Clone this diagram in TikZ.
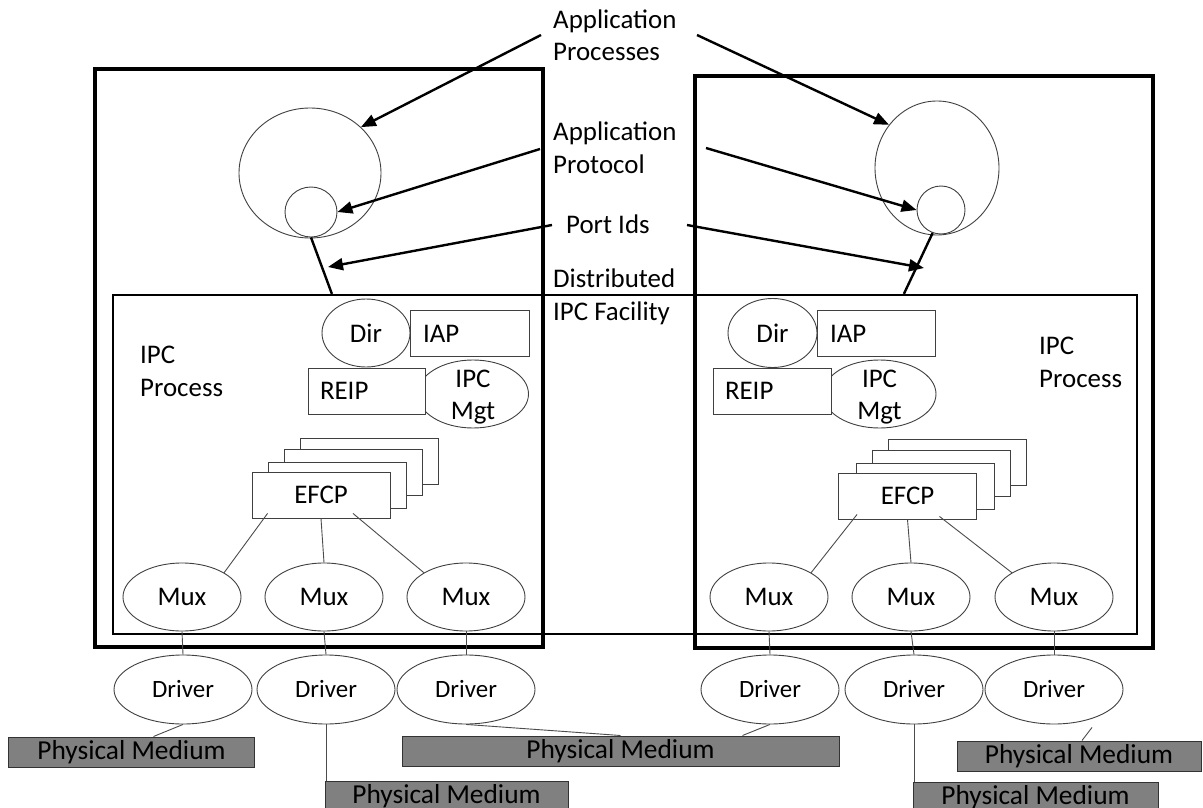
\documentclass[tikz,border=0pt]{standalone}
\usepackage{fontspec}
\setmainfont{Carlito}
\usetikzlibrary{shapes.geometric,arrows.meta,calc}

\begin{document}
\begin{tikzpicture}[x=1bp,y=-1bp,
  txt/.style={font=\fontsize{27}{33}\selectfont, text=black},
  thinline/.style={draw=black!75, line width=0.9bp},
  oval/.style={ellipse, thinline, fill=white, inner sep=0pt, txt},
  box/.style={rectangle, thinline, fill=white, inner sep=0pt, txt},
  tagbox/.style={box, align=left, inner ysep=0pt, minimum height=46bp},
  mgt/.style={oval, align=center, font=\fontsize{27}{32}\selectfont, text height=55bp, text depth=5bp, inner sep=-16bp, minimum height=68bp},
  efcp/.style={box, minimum width=138bp, minimum height=46bp},
  mux/.style={oval, minimum width=118bp, minimum height=68bp},
  drv/.style={oval, minimum width=138bp, minimum height=69bp, font=\fontsize{25}{30}\selectfont},
  frame/.style={rectangle, draw=black, line width=3.2bp, inner sep=0pt},
  medium/.style={rectangle, draw=black!80, line width=1bp, fill=black!50, inner sep=0pt, minimum height=30bp, font=\fontsize{27.5}{33}\selectfont},
  pointer/.style={draw=black, line width=2.4bp, -{Triangle[length=15bp,width=12bp]}},
  link/.style={draw=black!70, line width=0.9bp},
  stem/.style={draw=black, line width=2.4bp},
  lbl/.style={txt, inner sep=0pt, align=left, anchor=base west},
]
\useasboundingbox[fill=white] (0,0) rectangle (1203,808);

% the two systems and the shared IPC facility
\node[frame, minimum width=448bp, minimum height=578bp] (sysL) at (319,358) {};
\node[frame, minimum width=458bp, minimum height=572bp] (sysR) at (924,362) {};
\node[rectangle, draw=black, line width=2.2bp, minimum width=1024bp, minimum height=339bp, inner sep=0pt] (dif) at (625,464.5) {};

% application processes with their port circles
\node[oval, minimum width=142bp, minimum height=130bp] (apL) at (310,173) {};
\node[oval, minimum width=124bp, minimum height=134bp] (apR) at (937,168) {};
\node[oval, minimum width=52bp, minimum height=50bp] (ptL) at (311,212) {};
\node[oval, minimum width=48bp, minimum height=48bp] (ptR) at (941,210) {};
\draw[stem] (ptL.south) -- ($(dif.north west)+(220,0)$);
\draw[stem] (ptR.250) -- ($(dif.north west)+(792,0)$);

% central labels (anchored on the baseline of their last line)
\node[lbl] (tAP) at (553,61) {Application\\Processes};
\node[lbl] (tProt) at (553,173) {Application\\Protocol};
\node[lbl] (tPort) at (566,233) {Port Ids};
\node[lbl] (tDIF) at (553,320) {Distributed\\IPC Facility};

\coordinate (sAPl) at (541,35);
\coordinate (sAPr) at (697,35);
\coordinate (sPrl) at (540,149);
\coordinate (sPrr) at (706,148);
\coordinate (sPol) at (552,225);
\coordinate (sPor) at (687,225);
\coordinate (jL) at (328,267);
\coordinate (jR) at (924,268);
\draw[pointer] (sAPl) -- (apL.42);
\draw[pointer] (sAPr) -- (apR.138);
\draw[pointer] (sPrl) -- (ptL.east);
\draw[pointer] (sPrr) -- (ptR.west);
\draw[pointer] (sPol) -- (jL);
\draw[pointer] (sPor) -- (jR);

% IPC process, left
\node[mgt, minimum width=111bp] (mgtL) at (473,394) {IPC\\Mgt};
\node[tagbox, inner xsep=12bp, text width=93bp] (reipL) at (366.5,391) {REIP};
\node[oval, minimum width=88bp, minimum height=68bp] (dirL) at (366,333) {Dir};
\node[tagbox, inner xsep=13bp, text width=93bp] (iapL) at (469.5,333.5) {IAP};
\node[lbl] (ippL) at (140,396) {IPC\\Process};

% IPC process, right
\node[mgt, minimum width=113bp] (mgtR) at (879.5,394) {IPC\\Mgt};
\node[tagbox, inner xsep=12bp, text width=94bp] (reipR) at (772,391) {REIP};
\node[oval, minimum width=89bp, minimum height=69bp] (dirR) at (772.5,333) {Dir};
\node[tagbox, inner xsep=13bp, text width=92bp] (iapR) at (876,333.5) {IAP};
\node[lbl] (ippR) at (1039,387) {IPC\\Process};

% EFCP instances
\node[efcp] (efcpL3) at (369,461) {};
\node[efcp] (efcpL2) at (353,472) {};
\node[efcp] (efcpL1) at (337,485) {};
\node[efcp] (efcpL) at (321,495) {EFCP};
\node[efcp] (efcpR3) at (957.5,462) {};
\node[efcp] (efcpR2) at (941.5,473) {};
\node[efcp] (efcpR1) at (925.5,486) {};
\node[efcp] (efcpR) at (907.5,496) {EFCP};

% multiplexers
\node[mux] (muxL1) at (182,597) {Mux};
\node[mux] (muxL2) at (324,597) {Mux};
\node[mux] (muxL3) at (466,597) {Mux};
\node[mux] (muxR1) at (769,597) {Mux};
\node[mux] (muxR2) at (911,597) {Mux};
\node[mux] (muxR3) at (1054,597) {Mux};

\draw[link] ($(efcpL.south west)+(16,-5)$) -- (muxL1.30);
\draw[link] (efcpL.south) -- (muxL2.north);
\draw[link] ($(efcpL.south)+(32,-5)$) -- (muxL3.150);
\draw[link] ($(efcpR.south west)+(19,-5)$) -- (muxR1.30);
\draw[link] (efcpR.south) -- (muxR2.north);
\draw[link] ($(efcpR.south)+(32,-3)$) -- (muxR3.150);

% drivers
\node[drv] (drvL1) at (183,689.5) {Driver};
\node[drv] (drvL2) at (326,689.5) {Driver};
\node[drv] (drvL3) at (466,689.5) {Driver};
\node[drv] (drvR1) at (770,689.5) {Driver};
\node[drv] (drvR2) at (914,689.5) {Driver};
\node[drv] (drvR3) at (1054,689.5) {Driver};

\draw[link] (muxL1.south) -- (drvL1.north);
\draw[link] (muxL2.south) -- (drvL2.north);
\draw[link] (muxL3.south) -- (drvL3.north);
\draw[link] (muxR1.south) -- (drvR1.north);
\draw[link] (muxR2.south) -- (drvR2.north);
\draw[link] (muxR3.south) -- (drvR3.north);

% physical media
\node[medium, minimum width=245bp] (pm1) at (131.5,752) {Physical Medium};
\node[medium, minimum width=243bp] (pm2) at (446.5,796) {Physical Medium};
\node[medium, minimum width=437bp] (pm3) at (620.5,751) {Physical Medium};
\node[medium, minimum width=245bp] (pm4) at (1035.5,797) {Physical Medium};
\node[medium, minimum width=244bp] (pm5) at (1079,756) {Physical Medium};

\draw[link] (drvL1.south) -- ($(pm1.north)+(22,0)$);
\draw[link] (drvL2.south) -- (drvL2.south |- pm2.north);
\draw[link] (drvL3.south) -- (pm3.north);
\draw[link] (drvR1.south) -- ($(pm3.north east)+(-97,0)$);
\draw[link] (drvR2.south) -- (drvR2.south |- pm4.north);
\draw[link] ($(drvR3.south)+(38,3)$) -- ($(pm5.north)+(3,0)$);
\end{tikzpicture}
\end{document}
